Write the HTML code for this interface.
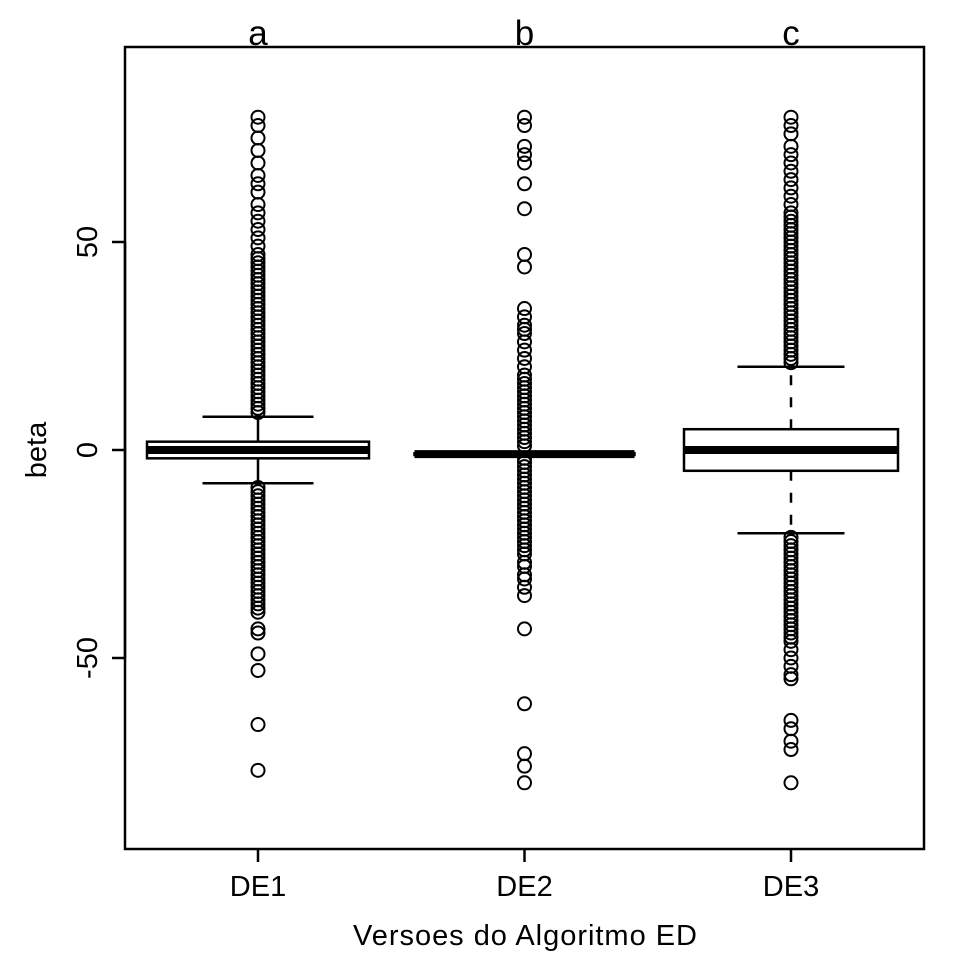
<!DOCTYPE html>
<html><head><meta charset="utf-8"><style>
body{margin:0;background:#fff;}
svg text{font-family:"Liberation Sans",Arial,sans-serif;fill:#000;}
</style></head><body>
<svg id="chart" width="975" height="975" xmlns="http://www.w3.org/2000/svg">
<rect x="125" y="47" width="799" height="802" fill="none" stroke="#000" stroke-width="2.5"/>
<g id="marks"></g>
<g id="axes"></g>
<text x="525" y="945" font-size="29" text-anchor="middle" textLength="344">Versoes do Algoritmo ED</text>
<text x="0" y="0" font-size="29" text-anchor="middle" transform="translate(46,450) rotate(-90)">beta</text>
</svg>
<script>
const categories=["DE1","DE2","DE3"];
const letters=["a","b","c"];
const q1=[-2,-1.2,-5];
const medians=[0,-1,0];
const q3=[2,-0.8,5];
const whiskLo=[-8,-1.5,-20];
const whiskHi=[8,-0.5,20];
const yTicks=[-50,0,50];
const out1=[9,10,11,12,13,14,15,16,17,18,19,20,21,22,23,24,25,26,27,28,29,30,31,32,33,34,35,36,37,38,39,40,41,42,43,44,45,46,47,49,51,53,55,57,59,62,64,66,69,72,75,78,80,-9,-10,-11,-12,-13,-14,-15,-16,-17,-18,-19,-20,-21,-22,-23,-24,-25,-26,-27,-28,-29,-30,-31,-32,-33,-34,-35,-36,-37,-38,-39,-43,-44,-49,-53,-66,-77];
const out2=[1,2,3,4,5,6,7,8,9,10,11,12,13,14,15,16,17,18,20,22,24,26,28,29,30,32,34,44,47,58,64,69,71,73,78,80,-2,-3,-4,-5,-6,-7,-8,-9,-10,-11,-12,-13,-14,-15,-16,-17,-18,-19,-20,-21,-22,-23,-24,-25,-27,-28,-30,-31,-33,-35,-43,-61,-73,-76,-80];
const out3=[21,22,23,24,25,26,27,28,29,30,31,32,33,34,35,36,37,38,39,40,41,42,43,44,45,46,47,48,49,50,51,52,53,54,55,56,57,59,61,63,65,67,69,71,73,76,78,80,-21,-22,-23,-24,-25,-26,-27,-28,-29,-30,-31,-32,-33,-34,-35,-36,-37,-38,-39,-40,-41,-42,-43,-44,-45,-46,-48,-50,-52,-54,-55,-65,-67,-70,-72,-80];
const outliers=[out1,out2,out3];
const NS="http://www.w3.org/2000/svg";
function y(v){return 450-v*4.16;}
function x(i){return 258+i*266.5;}
const halfW=[111,110,107];
function mk(tag,attrs,parent){const e=document.createElementNS(NS,tag);for(const k in attrs)e.setAttribute(k,attrs[k]);parent.appendChild(e);return e;}
const g=document.getElementById('marks'),ax=document.getElementById('axes');
categories.forEach((c,i)=>{
  const cx=x(i),hw=halfW[i];
  const grp=mk('g',{},g);
  
  
  const dash=i==2?'10,12':'none';
  mk('line',{x1:cx,x2:cx,y1:y(q3[i]),y2:y(whiskHi[i]),stroke:'#000','stroke-width':2.5,'stroke-dasharray':dash},grp);
  mk('line',{x1:cx,x2:cx,y1:y(q1[i]),y2:y(whiskLo[i]),stroke:'#000','stroke-width':2.5,'stroke-dasharray':dash},grp);
  mk('line',{x1:cx-hw/2,x2:cx+hw/2,y1:y(whiskHi[i]),y2:y(whiskHi[i]),stroke:'#000','stroke-width':2.5},grp);
  mk('line',{x1:cx-hw/2,x2:cx+hw/2,y1:y(whiskLo[i]),y2:y(whiskLo[i]),stroke:'#000','stroke-width':2.5},grp);
  mk('rect',{x:cx-hw,y:y(q3[i]),width:hw*2,height:Math.max(1,y(q1[i])-y(q3[i])),fill:'#fff',stroke:'#000','stroke-width':2.5},grp);
  mk('line',{x1:cx-hw,x2:cx+hw,y1:y(medians[i]),y2:y(medians[i]),stroke:'#000','stroke-width':8},grp);
  outliers[i].forEach(v=>{
    const p=mk('circle',{cx:cx,cy:y(v),r:6.5,fill:'none',stroke:'#000','stroke-width':2},grp);
    
    
  });
  const t=mk('text',{x:cx,y:896,'font-size':29,'text-anchor':'middle'},ax);t.textContent=c;
  
  
  mk('line',{x1:cx,x2:cx,y1:849,y2:862,stroke:'#000','stroke-width':2.5},ax);
  const l=mk('text',{x:cx,y:45,'font-size':35,'text-anchor':'middle'},ax);l.textContent=letters[i];
  
  
});
yTicks.forEach(v=>{
  mk('line',{x1:112,x2:125,y1:y(v),y2:y(v),stroke:'#000','stroke-width':2.5},ax);
  const t=mk('text',{x:0,y:0,'font-size':29,'text-anchor':'middle',transform:`translate(97,${y(v)}) rotate(-90)`},ax);t.textContent=v;
  
  
});
mk('line',{x1:125,x2:125,y1:y(-50),y2:y(50),stroke:'#000','stroke-width':2.5},ax);
</script>
</body></html>
